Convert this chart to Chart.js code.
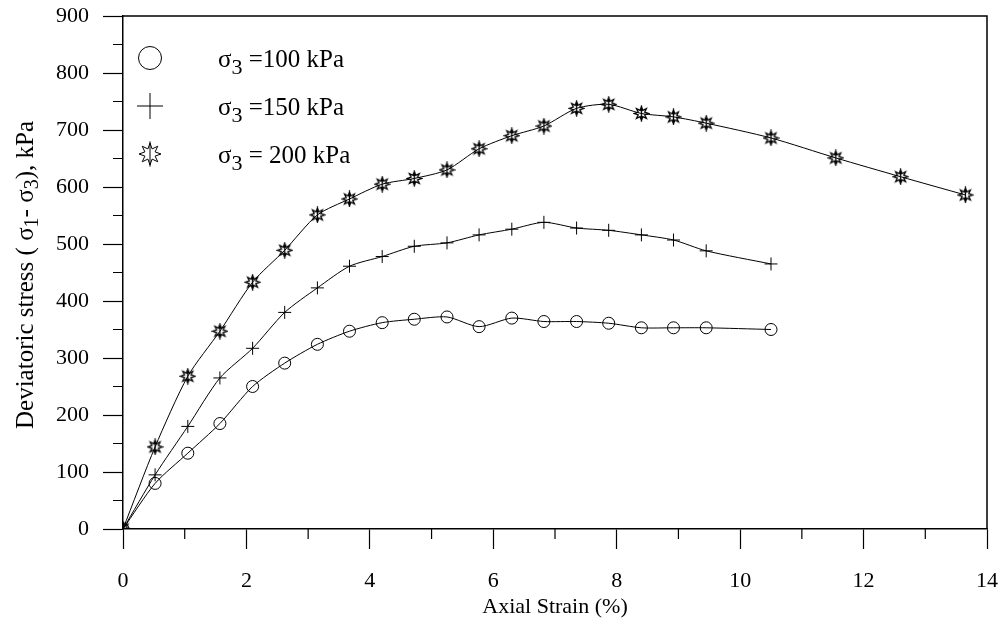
<!DOCTYPE html>
<html>
<head>
<meta charset="utf-8">
<script src="https://cdn.jsdelivr.net/npm/chart.js@4/dist/chart.umd.min.js"></script>
<style>
  html, body { margin: 0; padding: 0; background: #fff; }
  #wrap { width: 1007px; height: 637px; }
</style>
</head>
<body>
<div id="wrap"><canvas id="c" width="1007" height="637"></canvas></div>
<script>
/* stress-strain curves, three confining pressures */

const FONT = '"Liberation Serif", "Times New Roman", serif';

const strainLow = [0, 0.52, 1.05, 1.57, 2.1, 2.62, 3.15, 3.67, 4.2, 4.72, 5.25, 5.77, 6.3, 6.82, 7.35, 7.87, 8.4, 8.92, 9.45, 10.5];
const stress100 = [0, 80, 133, 185, 250, 291, 324, 347, 362, 368, 372, 355, 370, 364, 364, 361, 353, 353, 353, 350];

const strainMid = [0, 0.52, 1.05, 1.57, 2.1, 2.62, 3.15, 3.67, 4.2, 4.72, 5.25, 5.77, 6.3, 6.82, 7.35, 7.87, 8.4, 8.92, 9.45, 10.5];
const stress150 = [0, 95, 180, 265, 317, 380, 423, 461, 478, 496, 502, 516, 526, 538, 528, 524, 516, 507, 488, 465];

const strainHigh = [0, 0.52, 1.05, 1.57, 2.1, 2.62, 3.15, 3.67, 4.2, 4.72, 5.25, 5.77, 6.3, 6.82, 7.35, 7.87, 8.4, 8.92, 9.45, 10.5, 11.55, 12.6, 13.65];
const stress200 = [0, 144, 268, 347, 433, 489, 551, 579, 605, 615, 630, 667, 690, 707, 738, 745, 729, 723, 712, 686, 651, 618, 586];

const xTicks = [0, 2, 4, 6, 8, 10, 12, 14];
const yTicks = [0, 100, 200, 300, 400, 500, 600, 700, 800, 900];
const legendLabels = [
  { pre: 'σ', sub: '3', post: ' =100 kPa' },
  { pre: 'σ', sub: '3', post: ' =150 kPa' },
  { pre: 'σ', sub: '3', post: ' = 200 kPa' }
];

const pts = (xs, ys) => xs.map((x, i) => ({ x, y: ys[i] }));

// 8-point hollow star with a vertical stroke through it
function drawStar(ctx, cx, cy, r) {
  ctx.beginPath();
  for (let i = 0; i < 16; i++) {
    const a = -Math.PI / 2 + i * Math.PI / 8;
    const rr = i % 2 === 0 ? r : r * 0.5;
    const px = cx + rr * Math.cos(a), py = cy + rr * Math.sin(a);
    i ? ctx.lineTo(px, py) : ctx.moveTo(px, py);
  }
  ctx.closePath();
  ctx.moveTo(cx, cy - r * 1.15);
  ctx.lineTo(cx, cy + r * 1.15);
  ctx.stroke();
}

const starImg = document.createElement('canvas');
starImg.width = 17; starImg.height = 17;
(() => {
  const g = starImg.getContext('2d');
  g.strokeStyle = '#000';
  g.lineWidth = 1.3;
  drawStar(g, 8.5, 8.5, 7);
})();

function drawSubText(ctx, parts, x, y, size, subSize, drop) {
  // parts: [text, isSub]
  let cx = x;
  parts.forEach(([t, sub]) => {
    ctx.font = `${sub ? subSize : size}px ${FONT}`;
    ctx.fillText(t, cx, sub ? y + drop : y);
    cx += ctx.measureText(t).width;
  });
  return cx - x;
}

const decor = {
  id: 'decor',
  afterDraw(chart) {
    const { ctx, chartArea: a, scales } = chart;
    const xs = scales.x, ys = scales.y;
    ctx.save();
    ctx.strokeStyle = '#000';
    ctx.fillStyle = '#000';

    // frame top + right
    ctx.lineWidth = 1.5;
    ctx.beginPath();
    ctx.moveTo(a.left, a.top); ctx.lineTo(a.right, a.top); ctx.lineTo(a.right, a.bottom);
    ctx.stroke();

    // minor ticks
    ctx.lineWidth = 1.2;
    ctx.beginPath();
    for (let v = 1; v < 14; v += 2) {
      const px = xs.getPixelForValue(v);
      ctx.moveTo(px, a.bottom); ctx.lineTo(px, a.bottom + 10);
    }
    for (let v = 50; v < 900; v += 100) {
      const py = ys.getPixelForValue(v);
      ctx.moveTo(a.left - 10, py); ctx.lineTo(a.left, py);
    }
    ctx.stroke();

    // legend
    const rowY = [58, 106, 154];
    ctx.lineWidth = 1;
    ctx.beginPath();
    ctx.arc(150, rowY[0], 11.5, 0, Math.PI * 2);
    ctx.stroke();
    ctx.beginPath();
    ctx.moveTo(137, rowY[1]); ctx.lineTo(163, rowY[1]);
    ctx.moveTo(150, rowY[1] - 13); ctx.lineTo(150, rowY[1] + 13);
    ctx.stroke();
    drawStar(ctx, 150, rowY[2], 11);
    ctx.textBaseline = 'alphabetic';
    ctx.textAlign = 'left';
    legendLabels.forEach((l, i) => {
      drawSubText(ctx, [[l.pre, false], [l.sub, true], [l.post, false]], 218, rowY[i] + 9, 25, 22, 7);
    });

    // y title, rotated, with subscripts
    ctx.translate(33, 0);
    ctx.rotate(-Math.PI / 2);
    const parts = [['Deviatoric stress ( σ', false], ['1', true], ['- σ', false], ['3', true], ['), kPa', false]];
    let w = 0;
    parts.forEach(([t, sub]) => {
      ctx.font = `${sub ? 20 : 25}px ${FONT}`;
      w += ctx.measureText(t).width;
    });
    drawSubText(ctx, parts, -275 - w / 2, 0, 25, 20, 5);
    ctx.restore();
  }
};

new Chart(document.getElementById('c'), {
  type: 'line',
  data: {
    datasets: [
      {
        label: 'σ3 =100 kPa',
        data: pts(strainLow, stress100),
        borderColor: '#000', borderWidth: 1, tension: 0.25,
        pointStyle: 'circle', pointRadius: 6, pointBorderWidth: 1,
        pointBorderColor: '#000', pointBackgroundColor: 'rgba(0,0,0,0)'
      },
      {
        label: 'σ3 =150 kPa',
        data: pts(strainMid, stress150),
        borderColor: '#000', borderWidth: 1, tension: 0.25,
        pointStyle: 'cross', pointRadius: 6.5, pointBorderWidth: 1,
        pointBorderColor: '#000'
      },
      {
        label: 'σ3 = 200 kPa',
        data: pts(strainHigh, stress200),
        borderColor: '#000', borderWidth: 1, tension: 0.25,
        pointStyle: starImg, pointRadius: 7,
        pointBorderColor: '#000'
      }
    ]
  },
  options: {
    responsive: false,
    animation: false,
    layout: { padding: { top: 16, right: 20, left: 0, bottom: 0 } },
    plugins: { legend: { display: false }, tooltip: { enabled: false } },
    scales: {
      x: {
        type: 'linear', min: 0, max: 14,
        afterFit: (s) => { s.height = 108; s.paddingLeft = 0; s.paddingRight = 0; },
        afterBuildTicks: (s) => { s.ticks = xTicks.map(v => ({ value: v })); },
        grid: { drawOnChartArea: false, tickLength: 20, tickColor: '#000', tickWidth: 1.2 },
        border: { color: '#000', width: 1.5 },
        ticks: { color: '#000', font: { family: FONT, size: 22 }, padding: 19, maxRotation: 0 },
        title: { display: true, text: 'Axial Strain (%)', color: '#000', font: { family: FONT, size: 22 }, padding: { top: 0, bottom: 17 } }
      },
      y: {
        min: 0, max: 900,
        afterFit: (s) => { s.width = 123; s.paddingTop = 0; s.paddingBottom = 0; },
        afterBuildTicks: (s) => { s.ticks = yTicks.map(v => ({ value: v })); },
        grid: { drawOnChartArea: false, tickLength: 20, tickColor: '#000', tickWidth: 1.2 },
        border: { color: '#000', width: 1.5 },
        ticks: { color: '#000', font: { family: FONT, size: 22 }, padding: 14 }
      }
    }
  },
  plugins: [decor]
});
</script>
</body>
</html>
